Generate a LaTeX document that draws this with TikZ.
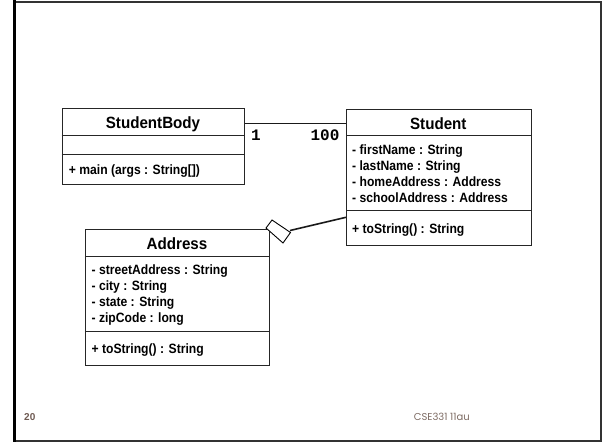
\documentclass[tikz,border=0pt]{standalone}
\usepackage{fontspec}
\setmainfont{Liberation Sans}
\newfontfamily\memberfont[FakeStretch=0.9]{Liberation Sans}
\newfontfamily\titlefont[FakeStretch=0.93]{Liberation Sans}
\newfontfamily\multfont{Liberation Mono}
\newfontfamily\footfont{Poppins}
\usetikzlibrary{positioning}
\definecolor{footbrown}{HTML}{7D6B63}
\definecolor{pagebrown}{HTML}{6E5A52}
\definecolor{framegray}{HTML}{333333}

\begin{document}
\begin{tikzpicture}[x=1pt, y=-1pt,
  classbox/.style={draw=black!85, line width=0.9pt, anchor=north west, inner sep=0pt},
  title/.style={anchor=base, inner sep=0pt, font=\titlefont\bfseries\fontsize{16.3}{18}\selectfont},
  member/.style={anchor=base west, inner sep=0pt, font=\memberfont\bfseries\fontsize{13.5}{15}\selectfont},
  mult/.style={anchor=base, inner sep=0pt, font=\multfont\bfseries\fontsize{16}{18}\selectfont},
  link/.style={line width=1.6pt, black!90}]

\useasboundingbox (0,0) rectangle (605,442);

% slide frame
\draw[framegray, line width=2pt] (14,2) -- (601.2,2) -- (601.2,440.6) -- (14,440.6);
\draw[black, line width=2.7pt] (14.3,0) -- (14.3,442);

% class boxes
\node[classbox, minimum width=182.5pt, minimum height=76pt] (body) at (61.7,108.3) {};
\node[classbox, minimum width=184.5pt, minimum height=135.7pt] (student) at (346,109.3) {};
\node[classbox, minimum width=184.1pt, minimum height=135.7pt] (address) at (84.9,229.3) {};

% compartments
\draw[black!85, line width=0.9pt] (body.west |- 0,135) -- (body.east |- 0,135);
\draw[black!85, line width=0.9pt] (body.west |- 0,154) -- (body.east |- 0,154);
\draw[black!85, line width=0.9pt] (student.west |- 0,135.7) -- (student.east |- 0,135.7);
\draw[black!85, line width=0.9pt] (student.west |- 0,210.7) -- (student.east |- 0,210.7);
\draw[black!85, line width=0.9pt] (address.west |- 0,256) -- (address.east |- 0,256);
\draw[black!85, line width=0.9pt] (address.west |- 0,331) -- (address.east |- 0,331);

% StudentBody
\node[title] (bodyT) at (153,128.5) {StudentBody};
\node[member] (bodyM) at (68.7,174.8) {+ main (args : String[])};

% Student
\node[title] (studentT) at (438.3,129.1) {Student};
\node[member] (studentA1) at (352,154.8) {- firstName : String};
\node[member] (studentA2) at (352,170.5) {- lastName : String};
\node[member] (studentA3) at (352,186.5) {- homeAddress : Address};
\node[member] (studentA4) at (352,202.1) {- schoolAddress : Address};
\node[member] (studentM) at (352,233.5) {+ toString() : String};

% Address
\node[title] (addressT) at (177,249.1) {Address};
\node[member] (addressA1) at (91.4,274.8) {- streetAddress : String};
\node[member] (addressA2) at (91.4,290.8) {- city : String};
\node[member] (addressA3) at (91.4,306.5) {- state : String};
\node[member] (addressA4) at (91.4,322.1) {- zipCode : long};
\node[member] (addressM) at (91.4,353.1) {+ toString() : String};

% association with multiplicities
\draw[link] (body.east |- 0,123.3) -- (student.west |- 0,123.3);
\node[mult] (multBody) at (256,140.7) {1};
\node[mult] (multStudent) at (325,140.7) {100};

% aggregation
\coordinate (aggFrom) at (346,217.3);
\coordinate (aggTip) at (290,230.5);
\draw[link] (aggFrom) -- (aggTip);
\draw[black, line width=0.9pt, fill=white] (290.5,232.5) -- (272,220) -- (266,228) -- (283,243) -- cycle;

% footer
\node[anchor=base, inner sep=0pt, font=\fontsize{10}{12}\selectfont\bfseries, text=pagebrown] (page) at (29.8,420.7) {20};
\node[anchor=base west, inner sep=0pt, font=\footfont\fontsize{10}{12}\selectfont, text=footbrown] (course) at (413.6,420.5) {CSE331 11au};

\end{tikzpicture}
\end{document}
